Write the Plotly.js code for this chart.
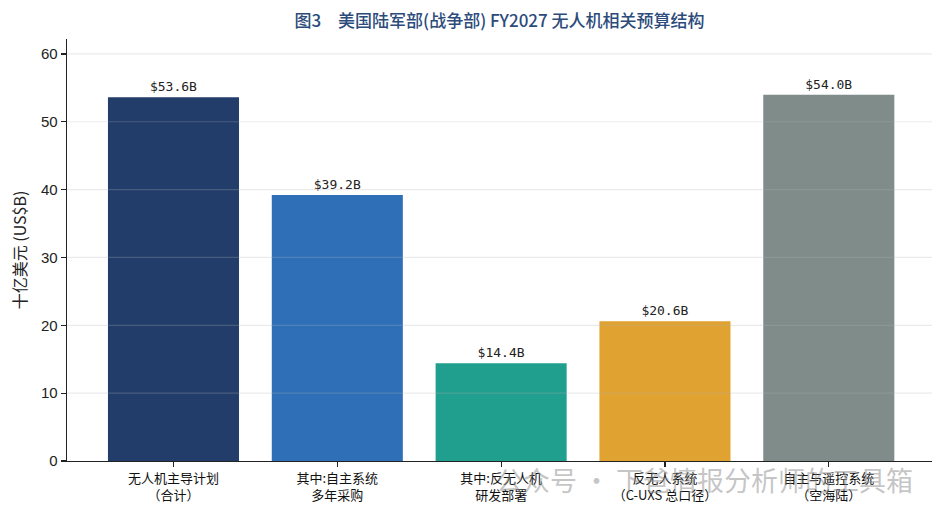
<!DOCTYPE html>
<html>
<head>
<meta charset="utf-8">
<script src="https://cdn.plot.ly/plotly-3.0.1.min.js"></script>
<style>html,body{margin:0;padding:0;background:#fff;}#chart{width:947px;height:518px;}</style>
</head>
<body>
<div id="chart"></div>
<script>
const categories = [
  "无人机主导计划<br>（合计）",
  "其中:自主系统<br>多年采购",
  "其中:反无人机<br>研发部署",
  "反无人系统<br>（C-UXS 总口径）",
  "自主与遥控系统<br>（空海陆）"
];
const values = [53.6, 39.2, 14.4, 20.6, 54.0];
const barColors = ["#223d6a", "#2e6fb8", "#219f8e", "#e0a231", "#7f8c8a"];
const yTicks = [0, 10, 20, 30, 40, 50, 60];

const trace = {
  type: "bar",
  x: categories,
  y: values,
  marker: {color: barColors, line: {width: 0}},
  width: 0.8,
  text: values.map(v => "$" + v.toFixed(1) + "B"),
  textposition: "outside",
  textfont: {family: "DejaVu Sans Mono, monospace", size: 13, color: "#222"},
  cliponaxis: false,
  hoverinfo: "skip"
};

const gridShapes = yTicks.filter(t => t > 0).map(t => ({
  type: "line", xref: "paper", yref: "y", x0: 0, x1: 1, y0: t, y1: t,
  line: {color: "rgba(176,176,176,0.27)", width: 1.2}, layer: "above"
}));

const layout = {
  width: 947, height: 518,
  margin: {l: 67, r: 15, t: 39, b: 57},
  paper_bgcolor: "#fff", plot_bgcolor: "#fff",
  showlegend: false,
  bargap: 0.2,
  title: {
    text: "图3　美国陆军部(战争部) FY2027 无人机相关预算结构",
    font: {family: "Noto Sans CJK SC", size: 17, color: "#2c4b7b", weight: 500},
    x: 0.5, xref: "paper", xanchor: "center", y: 0.96, yref: "container", yanchor: "middle"
  },
  xaxis: {
    type: "category",
    range: [-0.65, 4.63],
    showline: true, linecolor: "#222", linewidth: 1.3,
    ticks: "outside", ticklen: 5, tickcolor: "#222", tickwidth: 1.2,
    showgrid: false,
    tickfont: {family: "Noto Sans CJK SC", size: 13, color: "#111"},
    fixedrange: true
  },
  yaxis: {
    range: [0, 62.2],
    tickvals: yTicks,
    showline: true, linecolor: "#222", linewidth: 1.3,
    ticks: "outside", ticklen: 5, tickcolor: "#222", tickwidth: 1.2,
    showgrid: false, zeroline: false,
    tickfont: {family: "Liberation Sans, Arial, sans-serif", size: 15, color: "#222"},
    title: {text: "十亿美元 (US$B)", font: {family: "Noto Sans CJK SC", size: 16, color: "#222"}, standoff: 10},
    fixedrange: true
  },
  shapes: gridShapes,
  annotations: [{
    text: "公众号 · 下爸情报分析师的工具箱",
    xref: "paper", yref: "paper", x: 0.737, y: -0.045, xanchor: "center", yanchor: "middle",
    showarrow: false,
    font: {family: "Noto Sans CJK SC", size: 27, color: "rgba(140,140,140,0.5)"}
  }]
};

Plotly.newPlot("chart", [trace], layout, {displayModeBar: false, staticPlot: true});
</script>
</body>
</html>
